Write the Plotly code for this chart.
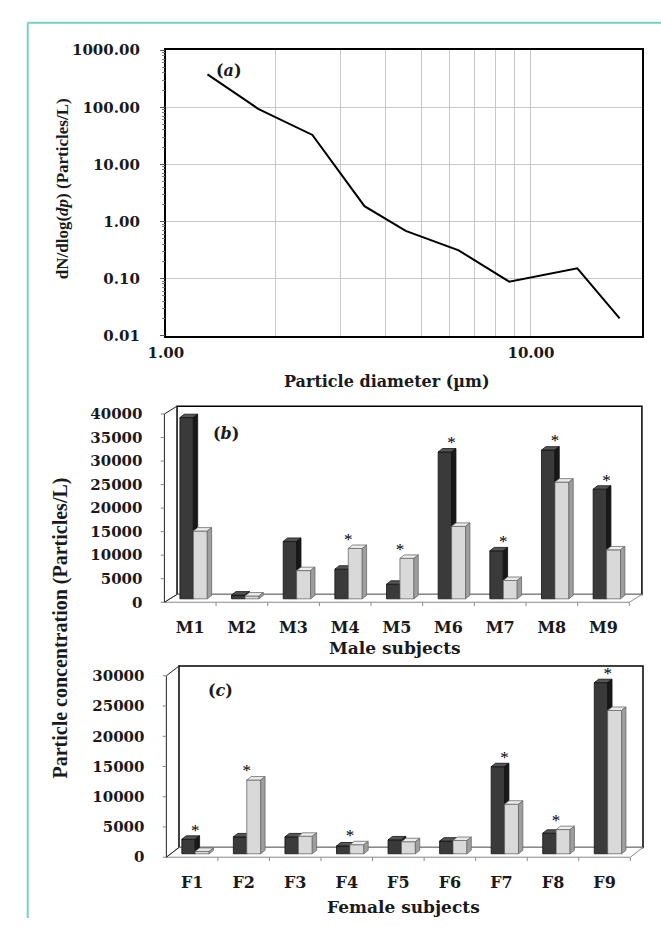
import plotly.graph_objects as go

W, H = 661, 927

# ---------------- data ----------------
diameter_um = [1.30, 1.79, 2.52, 3.50, 4.54, 6.34, 8.72, 13.4, 17.5]
dn_dlogdp = [376, 94, 32.7, 1.85, 0.68, 0.31, 0.088, 0.151, 0.020]

a_yticks = [0.01, 0.1, 1, 10, 100, 1000]
a_ytext = ["0.01", "0.10", "1.00", "10.00", "100.00", "1000.00"]
a_xticks = [1, 10]
a_xtext = ["1.00", "10.00"]
a_xminor = [2, 3, 4, 5, 6, 7, 8, 9]

male_subjects = ["M1", "M2", "M3", "M4", "M5", "M6", "M7", "M8", "M9"]
male_dark = [38500, 800, 12200, 6300, 3100, 31200, 10200, 31600, 23300]
male_light = [14400, 600, 6000, 10700, 8600, 15400, 3900, 24800, 10400]
male_sig = [0, 0, 0, 1, 1, 1, 1, 1, 1]

female_subjects = ["F1", "F2", "F3", "F4", "F5", "F6", "F7", "F8", "F9"]
female_dark = [2400, 2800, 2800, 1300, 2300, 2100, 14400, 3400, 28300]
female_light = [400, 12200, 2900, 1500, 2000, 2200, 8200, 4000, 23700]
female_sig = [1, 1, 0, 1, 0, 0, 1, 1, 1]

b_yticks = [0, 5000, 10000, 15000, 20000, 25000, 30000, 35000, 40000]
c_yticks = [0, 5000, 10000, 15000, 20000, 25000, 30000]

# ---------------- style ----------------
SERIF = "Liberation Serif"
WIDE = "DejaVu Serif"
TXT = "#1a1a1a"
NOCOL = "rgba(0,0,0,0)"
DARK = dict(front="#3a3a3a", side="#181818", top="#555555", line="#111111")
LIGHT = dict(front="#d9d9d9", side="#9e9e9e", top="#ededed", line="#6a6a6a")

fig = go.Figure()
shapes = []
annotations = []

# ---------------- panel (a) ----------------
A = dict(left=152, right=641, top=42, bottom=333)
fig.add_trace(go.Scatter(x=diameter_um, y=dn_dlogdp, mode="lines",
                         line=dict(color="black", width=2), showlegend=False,
                         hoverinfo="skip", xaxis="x", yaxis="y"))
y_minor = []
for e in a_yticks[:-1]:
    for m in [2, 3, 4, 5, 6, 7, 8, 9]:
        y_minor.append(m * e)

a_ydom = [1 - A["bottom"] / H, 1 - A["top"] / H]
fig.update_layout(
    xaxis=dict(domain=[A["left"] / W, A["right"] / W], type="log", range=[0, 1.303],
               tickmode="array", tickvals=a_xticks, ticktext=a_xtext,
               showgrid=True, gridcolor="#c8c8c8", gridwidth=1, ticks="",
               minor=dict(tickvals=a_xminor, showgrid=True, gridcolor="#c8c8c8", gridwidth=1, ticks=""),
               showline=True, mirror=True, linecolor="black", linewidth=2, zeroline=False,
               tickfont=dict(family=WIDE, size=15, color=TXT, weight="bold"),
               ticklabelstandoff=2, anchor="y"),
    yaxis=dict(domain=a_ydom, type="log", range=[-2, 3],
               tickmode="array", tickvals=a_yticks, ticktext=a_ytext,
               showgrid=True, gridcolor="#c8c8c8", gridwidth=1,
               ticks="outside", ticklen=21, tickcolor=NOCOL,
               showline=True, mirror=True, linecolor="black", linewidth=2, zeroline=False,
               tickfont=dict(family=WIDE, size=15, color=TXT, weight="bold"),
               anchor="x"),
    # tick-mark-only companion axis for panel (a)
    yaxis4=dict(domain=a_ydom, type="log", range=[-2, 3], overlaying="y", anchor="x",
                side="left", tickmode="array", tickvals=a_yticks, ticks="outside",
                ticklen=5, tickcolor="#555", showticklabels=False, showgrid=False,
                minor=dict(tickvals=y_minor, ticks="outside", ticklen=3, tickcolor="#777"),
                showline=False, zeroline=False),
)
fig.add_trace(go.Scatter(x=[diameter_um[0]], y=[dn_dlogdp[0]], mode="markers",
                         marker=dict(opacity=0), showlegend=False, hoverinfo="skip",
                         xaxis="x", yaxis="y4"))


# ---------------- 3D-style bar panels ----------------
def bar_panel(k, cats, dark, light, sig, yticks, g):
    xa, ya = f"x{k}", f"y{k}"
    left, colw, dxp, dyp, bottom, ppu, top = (g["left"], g["colw"], g["dx"], g["dy"],
                                              g["bottom"], g["ppu"], g["top"])
    n = len(cats)
    pad = 4
    ux = 1.0 / colw
    uy = 1.0 / ppu
    x0px, x1px = left - pad, left + n * colw + dxp + pad
    y0px, y1px = bottom + pad, top - pad
    xr = [-0.5 - pad * ux, -0.5 + (x1px - left) * ux]
    yr = [-pad * uy, (bottom - y1px) * uy]

    base = 3.5 * uy
    bdx, bdy = 4.5 * ux, 3.5 * uy
    series = [(dark, -0.20, 0.06, DARK), (light, 0.06, 0.33, LIGHT)]
    for vals, a, b, col in series:
        faces = {"front": ([], []), "top": ([], []), "side": ([], [])}
        for i, v in enumerate(vals):
            xl, xrr = i + a, i + b
            y0, y1 = base, base + v
            fx, fy = faces["front"]
            fx += [xl, xrr, xrr, xl, xl, None]
            fy += [y0, y0, y1, y1, y0, None]
            tx, ty = faces["top"]
            tx += [xl, xl + bdx, xrr + bdx, xrr, xl, None]
            ty += [y1, y1 + bdy, y1 + bdy, y1, y1, None]
            sx, sy = faces["side"]
            sx += [xrr, xrr + bdx, xrr + bdx, xrr, xrr, None]
            sy += [y0, y0 + bdy, y1 + bdy, y1, y0, None]
        for face in ["front", "top", "side"]:
            fx, fy = faces[face]
            fig.add_trace(go.Scatter(x=fx, y=fy, mode="lines", fill="toself",
                                     fillcolor=col[face], line=dict(color=col["line"], width=0.8),
                                     showlegend=False, hoverinfo="skip", xaxis=xa, yaxis=ya))
    # significance stars
    sx, sy = [], []
    for i in range(n):
        if sig[i]:
            sx.append(i + 0.06)
            sy.append(base + max(dark[i], light[i]) + bdy + 4.5 * uy)
    fig.add_trace(go.Scatter(x=sx, y=sy, mode="text", text=["*"] * len(sx),
                             textfont=dict(family=SERIF, size=17, color="black"),
                             textposition="middle center", cliponaxis=False,
                             showlegend=False, hoverinfo="skip", xaxis=xa, yaxis=ya))

    fig.update_layout(**{
        f"xaxis{k}": dict(domain=[x0px / W, x1px / W], range=xr, tickmode="array",
                          tickvals=list(range(n)), ticktext=cats, ticks="",
                          showgrid=False, zeroline=False, showline=False, anchor=ya,
                          tickfont=dict(family=WIDE, size=16, color=TXT, weight="bold"),
                          ticklabelstandoff=g["xstand"]),
        f"yaxis{k}": dict(domain=[1 - y0px / H, 1 - y1px / H], range=yr, tickmode="array",
                          tickvals=yticks, ticktext=[str(t) for t in yticks],
                          ticks="outside", ticklen=14, tickcolor=NOCOL,
                          showgrid=False, zeroline=False, showline=False, anchor=xa,
                          tickfont=dict(family=WIDE, size=15, color=TXT, weight="bold")),
    })

    wall_top = (bottom - top) * uy
    front_top = (bottom - top - dyp) * uy
    dxu, dyu = dxp * ux, dyp * uy
    ref = dict(xref=xa, yref=ya, layer="below")
    # back wall
    shapes.append(dict(type="rect", x0=-0.5 + dxu, x1=n - 0.5 + dxu, y0=dyu, y1=wall_top,
                       line=dict(color="black", width=1.5), fillcolor="white", **ref))
    # floor
    shapes.append(dict(type="path",
                       path=f"M {-0.5},{0} L {n - 0.5},{0} L {n - 0.5 + dxu},{dyu} L {-0.5 + dxu},{dyu} Z",
                       line=dict(color="#8a8a8a", width=1), fillcolor="white", **ref))
    # left wall
    shapes.append(dict(type="line", x0=-0.5, y0=0, x1=-0.5, y1=front_top,
                       line=dict(color="#222", width=1), **ref))
    shapes.append(dict(type="line", x0=-0.5, y0=front_top, x1=-0.5 + dxu, y1=wall_top,
                       line=dict(color="#222", width=1), **ref))
    shapes.append(dict(type="line", x0=-0.5, y0=0, x1=-0.5 + dxu, y1=dyu,
                       line=dict(color="#222", width=1), **ref))
    # value-axis tick marks on the left wall edge
    for t in yticks:
        shapes.append(dict(type="line", x0=-0.5 - 4 * ux, x1=-0.5, y0=t, y1=t,
                           line=dict(color="#888", width=1), xref=xa, yref=ya))
    # category boundary ticks on floor edge
    for j in range(1, n + 1):
        shapes.append(dict(type="line", x0=j - 0.5, x1=j - 0.5, y0=0, y1=-4 * uy,
                           line=dict(color="#8a8a8a", width=1), xref=xa, yref=ya))


B = dict(left=150.5, colw=53.1, dx=13, dy=8, bottom=605, ppu=4.8 / 1000, top=405, xstand=10)
C = dict(left=152.5, colw=53.0, dx=13, dy=10, bottom=865, ppu=6.167 / 1000, top=670, xstand=10)
bar_panel(2, male_subjects, male_dark, male_light, male_sig, b_yticks, B)
bar_panel(3, female_subjects, female_dark, female_light, female_sig, c_yticks, C)


# ---------------- text ----------------
def ann(text, x, y, size, angle=0, family=WIDE):
    annotations.append(dict(text=text, x=x / W, y=1 - y / H, xref="paper", yref="paper",
                            xanchor="center", yanchor="middle", showarrow=False, textangle=angle,
                            font=dict(family=family, size=size, color=TXT, weight="bold")))


ann("(<i>a</i>)", 217, 63, 16)
ann("(<i>b</i>)", 214, 433, 16)
ann("(<i>c</i>)", 208, 695, 16)
ann("dN/dlog(<i>dp</i>) (Particles/L)", 46, 183, 17, -90, SERIF)
ann("Particle diameter (µm)", 379, 380, 16)
ann("Particle concentration (Particles/L)", 44, 631, 20, -90, SERIF)
ann("Male subjects", 388, 652, 17)
ann("Female subjects", 396, 916, 17)

# teal frame
TEAL = "#76d2c3"
shapes.append(dict(type="line", xref="paper", yref="paper", x0=10 / W, x1=10 / W, y0=0, y1=1 - 14 / H,
                   line=dict(color=TEAL, width=2)))
shapes.append(dict(type="line", xref="paper", yref="paper", x0=10 / W, x1=1, y0=1 - 14 / H, y1=1 - 14 / H,
                   line=dict(color=TEAL, width=2)))

fig.update_layout(width=W, height=H, margin=dict(l=0, r=0, t=0, b=0),
                  paper_bgcolor="white", plot_bgcolor="white",
                  shapes=shapes, annotations=annotations, showlegend=False)

fig.write_html("out.html")
